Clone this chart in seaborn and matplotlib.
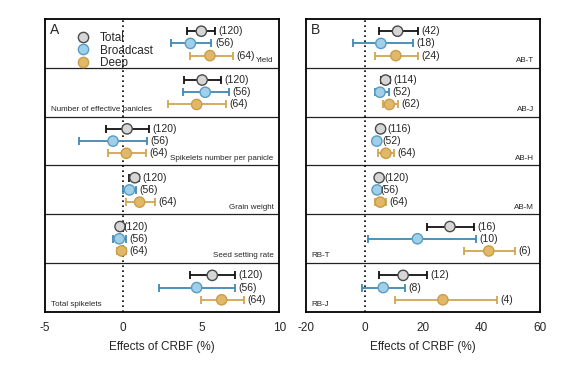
import matplotlib

matplotlib.use("Agg")
import matplotlib.pyplot as plt
import numpy as np
import pandas as pd
import seaborn as sns

groups = ["Total", "Broadcast", "Deep"]

a_rows = ["Yield", "Number of effective panicles", "Spikelets number per panicle",
          "Grain weight", "Seed setting rate", "Total spikelets"]
a_mean = [5.0, 4.3, 5.55, 5.05, 5.25, 4.7, 0.25, -0.65, 0.2,
          0.75, 0.4, 1.05, -0.2, -0.25, -0.1, 5.7, 4.7, 6.3]
a_low = [4.1, 3.05, 4.25, 3.9, 3.8, 2.85, -1.1, -2.8, -1.0,
         0.4, 0.0, 0.2, -0.2, -0.65, -0.4, 4.3, 2.3, 4.95]
a_high = [5.85, 5.65, 7.0, 6.25, 6.75, 6.6, 1.65, 1.55, 1.45,
          1.0, 0.8, 2.05, -0.2, 0.2, 0.15, 7.15, 7.15, 7.7]
a_n = [120, 56, 64, 120, 56, 64, 120, 56, 64, 120, 56, 64, 120, 56, 64, 120, 56, 64]

b_rows = ["AB-T", "AB-J", "AB-H", "AB-M", "RB-T", "RB-J"]
b_mean = [11.3, 5.6, 10.7, 7.2, 5.3, 8.5, 5.5, 4.2, 7.3,
          5.0, 4.3, 5.4, 29.2, 18.1, 42.5, 13.2, 6.4, 26.8]
b_low = [5.0, -4.1, 3.6, 5.6, 3.5, 6.4, 4.5, 3.5, 4.6,
         4.3, 4.3, 3.5, 21.5, 1.3, 34.1, 5.0, -0.9, 10.5]
b_high = [18.2, 16.7, 18.2, 8.6, 8.4, 11.4, 6.5, 5.0, 10.0,
          5.7, 4.3, 7.4, 37.3, 38.1, 51.4, 21.5, 13.8, 45.3]
b_n = [42, 18, 24, 114, 52, 62, 116, 52, 64, 120, 56, 64, 16, 10, 6, 12, 8, 4]

face_colors = {"Total": "#d6d6d6", "Broadcast": "#9fd0e8", "Deep": "#e0b868"}
edge_colors = {"Total": "#4a4a4a", "Broadcast": "#5a9cc2", "Deep": "#c99e4c"}
bar_colors = {"Total": "#111111", "Broadcast": "#3f88b3", "Deep": "#d2a650"}


def make_frame(rows, mean, low, high, n):
    records = []
    for i, row in enumerate(rows):
        for j, group in enumerate(groups):
            k = i * 3 + j
            records.append({
                "row": row, "group": group, "y": i + (j + 1) / 4.0,
                "mean": mean[k], "low": low[k], "high": high[k], "n": n[k],
            })
    return pd.DataFrame(records)


def draw_panel(ax, df, rows, xlim, xticks, label_side, gap, letter):
    for group in groups:
        sub = df[df["group"] == group]
        ax.errorbar(
            sub["mean"], sub["y"],
            xerr=[sub["mean"] - sub["low"], sub["high"] - sub["mean"]],
            fmt="none", ecolor=bar_colors[group], elinewidth=1.3,
            capsize=3.2, capthick=1.3, zorder=2,
        )
    sns.scatterplot(
        data=df, x="mean", y="y", hue="group", hue_order=groups,
        palette=face_colors, s=55, linewidth=1.0,
        edgecolor=[edge_colors[g] for g in df["group"]],
        legend=False, zorder=3, ax=ax,
    )
    for _, r in df.iterrows():
        ax.annotate(f"({r['n']})", (r["high"], r["y"]), xytext=(gap, 0),
                    textcoords="offset points", va="center", ha="left", fontsize=7.5)

    for i in range(1, len(rows)):
        ax.axhline(i, color="#222222", lw=0.9, zorder=1)
    ax.axvline(0, color="black", lw=1.2, ls=(0, (1, 2)), zorder=1)

    for i, row in enumerate(rows):
        if label_side[i] == "right":
            ax.text(xlim[1] - (xlim[1] - xlim[0]) * 0.025, i + 0.85, row,
                    ha="right", va="center", fontsize=5.8)
        else:
            ax.text(xlim[0] + (xlim[1] - xlim[0]) * 0.025, i + 0.85, row,
                    ha="left", va="center", fontsize=5.8)

    ax.text(0.02, 0.985, letter, transform=ax.transAxes, ha="left", va="top", fontsize=10)

    ax.set_xlim(xlim)
    ax.set_ylim(len(rows), 0)
    ax.set_xticks(xticks)
    ax.set_yticks([])
    ax.set_xlabel("Effects of CRBF (%)", fontsize=8.5, labelpad=5)
    ax.set_ylabel("")
    ax.tick_params(axis="x", direction="out", length=4, width=1.2, labelsize=8.5, pad=3)
    for spine in ax.spines.values():
        spine.set_visible(True)
        spine.set_color("black")
        spine.set_linewidth(1.3)


sns.set_theme(style="white")
plt.rcParams["font.family"] = ["Liberation Sans", "DejaVu Sans"]
plt.rcParams["axes.unicode_minus"] = False

fig = plt.figure(figsize=(5.83, 3.69), dpi=100)
ax_a = fig.add_axes([0.0772, 0.1545, 0.4022, 0.794])
ax_b = fig.add_axes([0.5249, 0.1545, 0.4013, 0.794])

df_a = make_frame(a_rows, a_mean, a_low, a_high, a_n)
df_b = make_frame(b_rows, b_mean, b_low, b_high, b_n)

draw_panel(ax_a, df_a, a_rows, (-5, 10), [-5, 0, 5, 10],
           ["right", "left", "right", "right", "right", "left"], 2.5, "A")
draw_panel(ax_b, df_b, b_rows, (-20, 60), [-20, 0, 20, 40, 60],
           ["right", "right", "right", "right", "left", "left"], 2.5, "B")

# legend key drawn by hand so the labels sit level with the markers
for j, group in enumerate(groups):
    ly = 0.939 - j * 0.0425
    ax_a.scatter([0.162], [ly], s=55, color=face_colors[group],
                 edgecolor=edge_colors[group], linewidth=1.0,
                 transform=ax_a.transAxes, zorder=4, clip_on=False)
    ax_a.text(0.235, ly, group, transform=ax_a.transAxes,
              ha="left", va="center_baseline", fontsize=8.5)

fig.savefig("out.png", dpi=100)
